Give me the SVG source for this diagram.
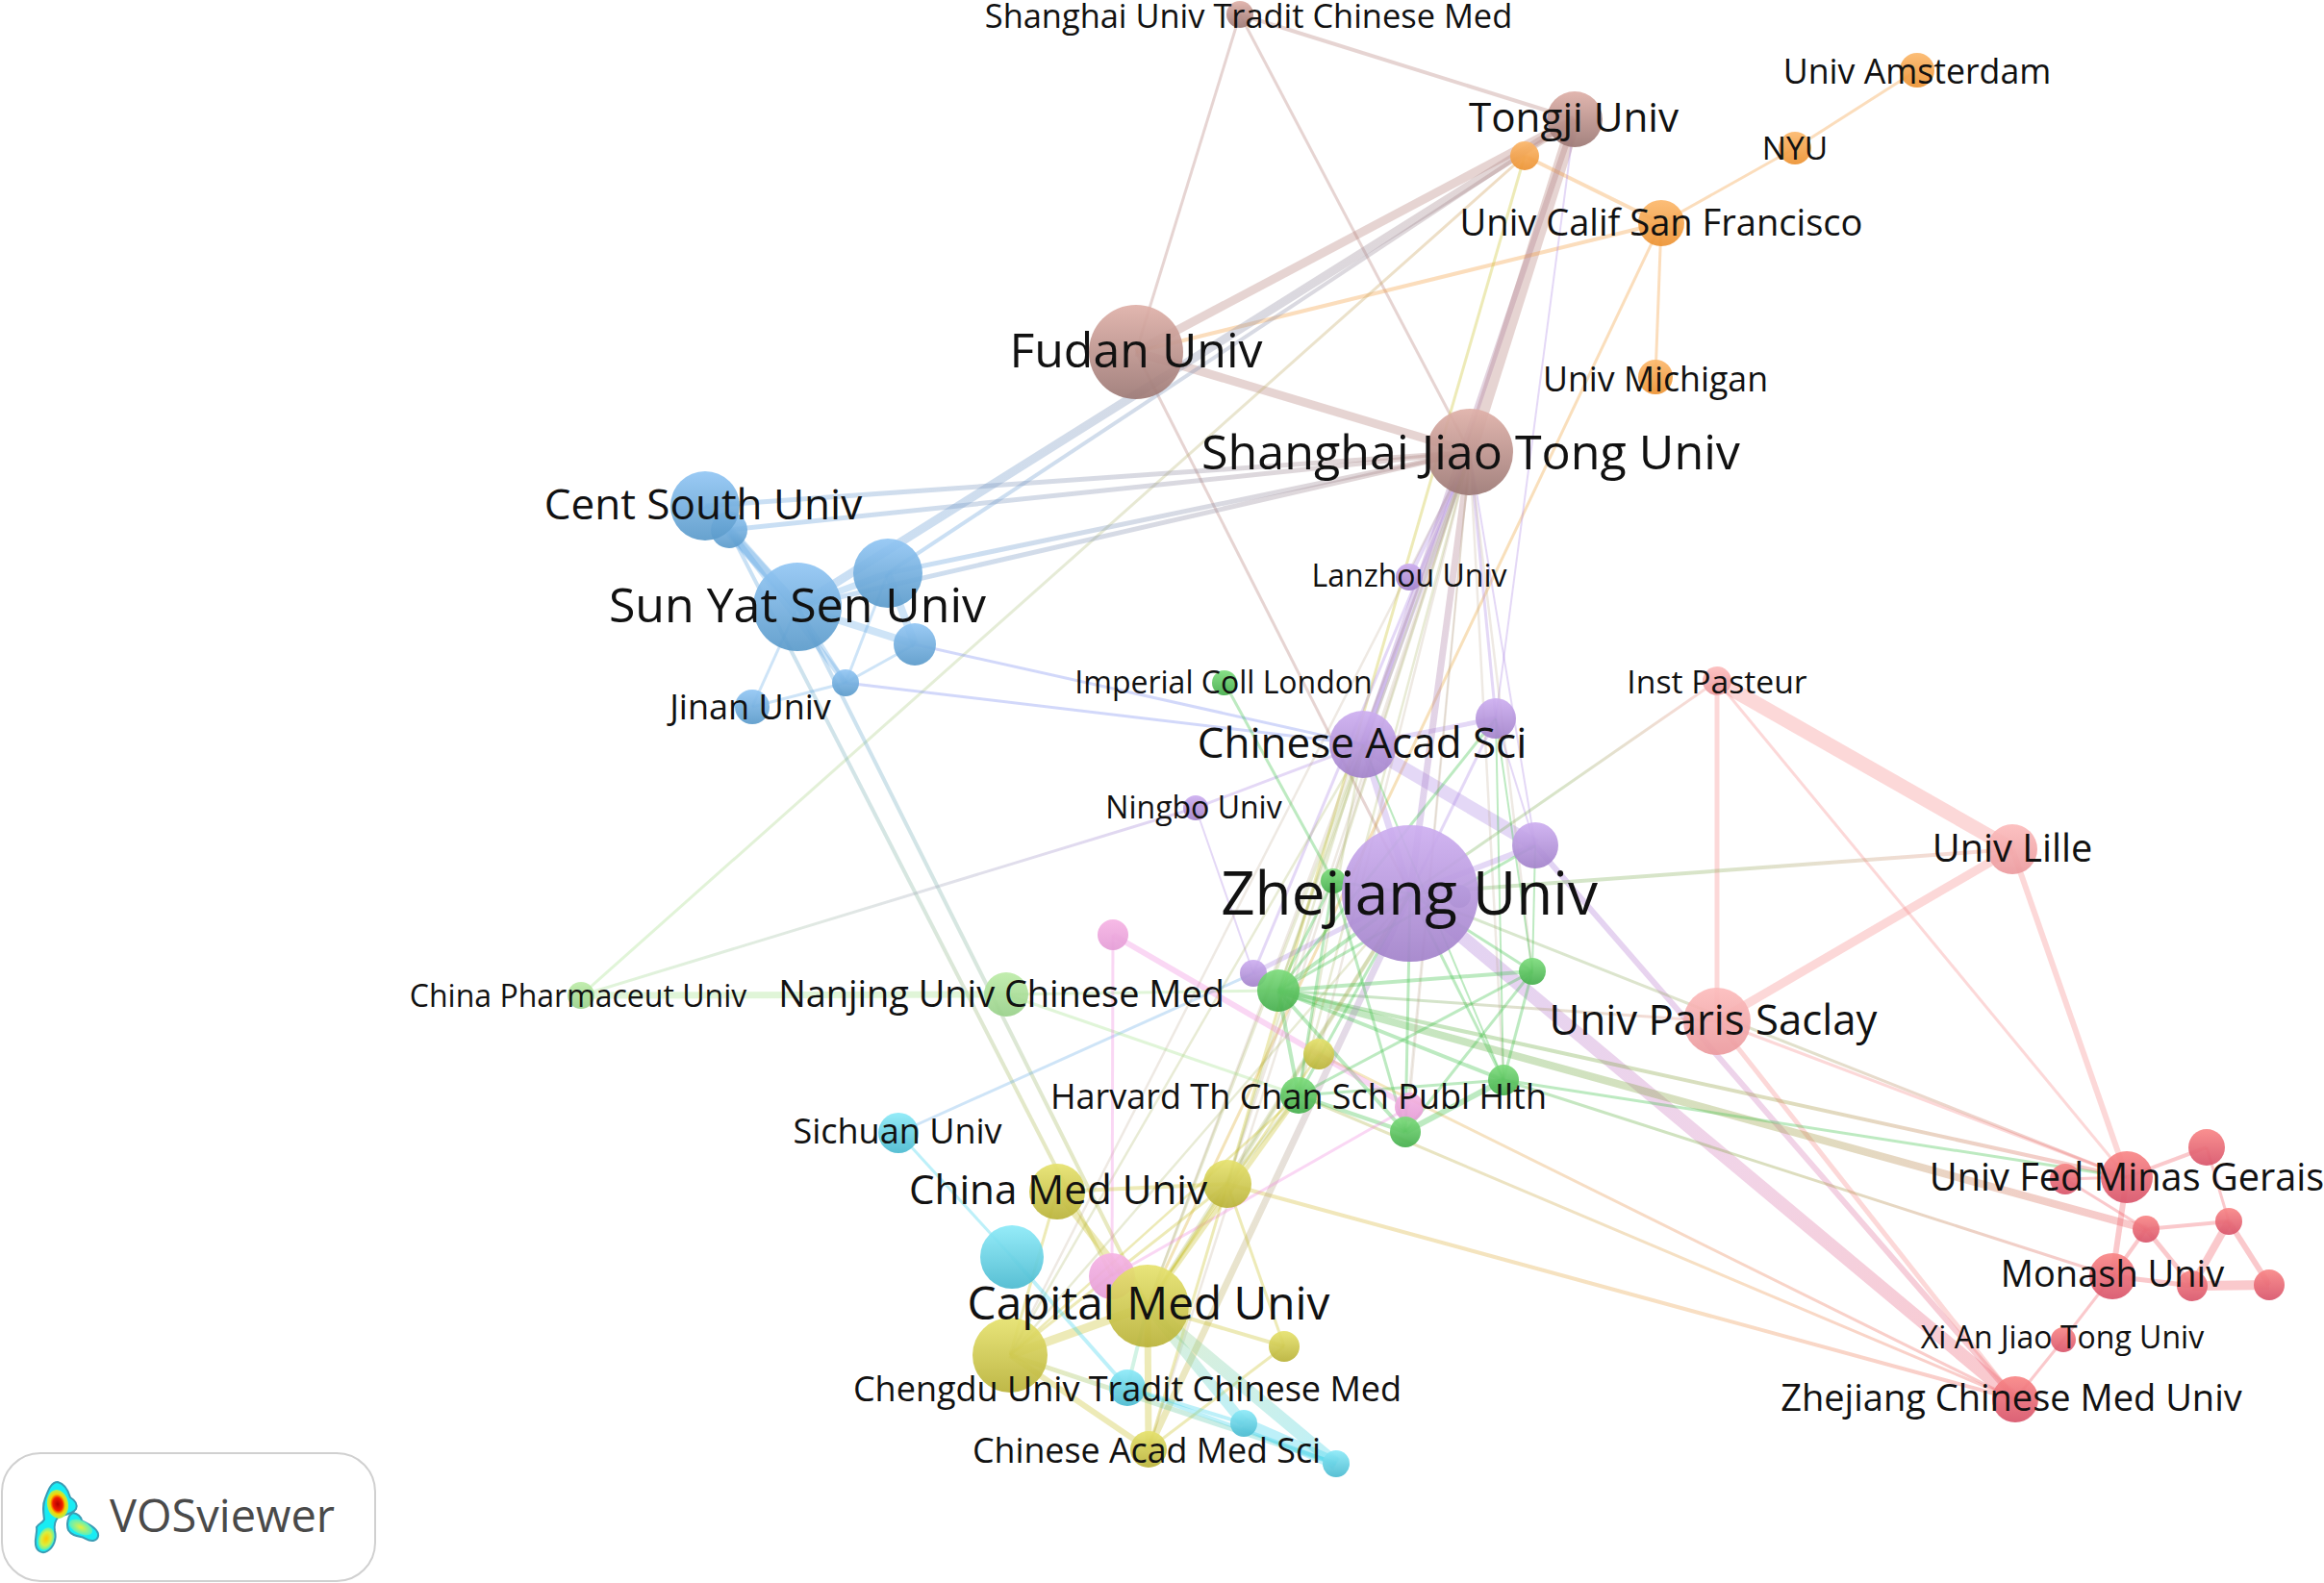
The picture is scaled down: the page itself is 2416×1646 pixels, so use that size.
<svg xmlns="http://www.w3.org/2000/svg" width="2416" height="1646" viewBox="0 0 2416 1646">
<style>
text{font-family:"Open Sans","Noto Sans","Liberation Sans",sans-serif;fill:#111;text-anchor:middle}
#connectors line{stroke-opacity:.34;fill:none}
#connectors line.ol,#connectors line.be{stroke-opacity:.24}
#connectors line.bl{stroke-opacity:.3}
#connectors line.pu{stroke-opacity:.3}
.node circle{opacity:.92}
.br{stroke:#b5827a}.or{stroke:#f39c3c}.pu{stroke:#a57fe0}.bl{stroke:#5da4e6}.re{stroke:#f0606a}.lp{stroke:#f78e8e}
.gr{stroke:#3fc04a}.ye{stroke:#c9c02c}.cy{stroke:#3ed4ee}.pk{stroke:#f08ade}.lg{stroke:#a5e38c}.ol{stroke:#a0ad50}.be{stroke:#b9a58a}.vi{stroke:#7c8cf0}.tl{stroke:#7cdcb4}
.fb{fill:url(#nBlue)}.ff{fill:url(#nBrown)}.fo{fill:url(#nOrange)}.fp{fill:url(#nPurple)}.fr{fill:url(#nRed)}.fl{fill:url(#nLp)}.fg{fill:url(#nGreen)}.fy{fill:url(#nYellow)}.fc{fill:url(#nCyan)}.fk{fill:url(#nPink)}.fn{fill:url(#nLg)}.fs{fill:url(#nSlate)}
</style>
<defs>
<linearGradient id="nBlue" x2="0" y2="1"><stop offset="0" stop-color="#92c6f4"/><stop offset="1" stop-color="#5a9aca"/></linearGradient>
<linearGradient id="nBrown" x2="0" y2="1"><stop offset="0" stop-color="#dfb0a8"/><stop offset="1" stop-color="#9c7874"/></linearGradient>
<linearGradient id="nOrange" x2="0" y2="1"><stop offset="0" stop-color="#fcb86c"/><stop offset="1" stop-color="#ec9232"/></linearGradient>
<linearGradient id="nPurple" x2="0" y2="1"><stop offset="0" stop-color="#cdaef0"/><stop offset="1" stop-color="#a282ca"/></linearGradient>
<linearGradient id="nRed" x2="0" y2="1"><stop offset="0" stop-color="#f98686"/><stop offset="1" stop-color="#d8546a"/></linearGradient>
<linearGradient id="nLp" x2="0" y2="1"><stop offset="0" stop-color="#fcbcbc"/><stop offset="1" stop-color="#eb9a9e"/></linearGradient>
<linearGradient id="nGreen" x2="0" y2="1"><stop offset="0" stop-color="#7ddc7c"/><stop offset="1" stop-color="#44ae4c"/></linearGradient>
<linearGradient id="nYellow" x2="0" y2="1"><stop offset="0" stop-color="#e6e26e"/><stop offset="1" stop-color="#b9b238"/></linearGradient>
<linearGradient id="nCyan" x2="0" y2="1"><stop offset="0" stop-color="#8ceaf8"/><stop offset="1" stop-color="#4abad0"/></linearGradient>
<linearGradient id="nPink" x2="0" y2="1"><stop offset="0" stop-color="#f6b4e4"/><stop offset="1" stop-color="#e49cd6"/></linearGradient>
<linearGradient id="nLg" x2="0" y2="1"><stop offset="0" stop-color="#bdeca8"/><stop offset="1" stop-color="#98d08a"/></linearGradient>
<linearGradient id="nSlate" x2="0" y2="1"><stop offset="0" stop-color="#9aa2c8"/><stop offset="1" stop-color="#808aa8"/></linearGradient>
<linearGradient id="e1" gradientUnits="userSpaceOnUse" x1="1466" y1="929" x2="2095" y2="1455"><stop offset="0" stop-color="#a57fe0"/><stop offset=".55" stop-color="#d880b8"/><stop offset="1" stop-color="#f0606a"/></linearGradient>
<linearGradient id="e2" gradientUnits="userSpaceOnUse" x1="1596" y1="879" x2="2095" y2="1455"><stop offset="0" stop-color="#a57fe0"/><stop offset=".55" stop-color="#d880b8"/><stop offset="1" stop-color="#f0606a"/></linearGradient>
<linearGradient id="e3" gradientUnits="userSpaceOnUse" x1="1329" y1="1030" x2="2231" y2="1278"><stop offset="0" stop-color="#3fc04a"/><stop offset=".6" stop-color="#a09a40"/><stop offset="1" stop-color="#f0606a"/></linearGradient>
<linearGradient id="e4" gradientUnits="userSpaceOnUse" x1="1329" y1="1030" x2="2211" y2="1224"><stop offset="0" stop-color="#3fc04a"/><stop offset=".6" stop-color="#a09a40"/><stop offset="1" stop-color="#f0606a"/></linearGradient>
<linearGradient id="e5" gradientUnits="userSpaceOnUse" x1="1563" y1="1123" x2="2196" y2="1327"><stop offset="0" stop-color="#3fc04a"/><stop offset=".5" stop-color="#a09a40"/><stop offset="1" stop-color="#f0606a"/></linearGradient>
<linearGradient id="e6" gradientUnits="userSpaceOnUse" x1="1466" y1="929" x2="2211" y2="1224"><stop offset="0" stop-color="#86c070"/><stop offset=".55" stop-color="#a8a468"/><stop offset="1" stop-color="#f0606a"/></linearGradient>
<linearGradient id="e7" gradientUnits="userSpaceOnUse" x1="829" y1="631" x2="1637" y2="124"><stop offset="0" stop-color="#5da4e6"/><stop offset="1" stop-color="#b5827a"/></linearGradient>
<linearGradient id="e8" gradientUnits="userSpaceOnUse" x1="923" y1="596" x2="1637" y2="124"><stop offset="0" stop-color="#5da4e6"/><stop offset="1" stop-color="#b5827a"/></linearGradient>
<linearGradient id="e9" gradientUnits="userSpaceOnUse" x1="733" y1="526" x2="1528" y2="470"><stop offset="0" stop-color="#5da4e6"/><stop offset="1" stop-color="#b5827a"/></linearGradient>
<linearGradient id="e10" gradientUnits="userSpaceOnUse" x1="758" y1="551" x2="1528" y2="470"><stop offset="0" stop-color="#5da4e6"/><stop offset="1" stop-color="#b5827a"/></linearGradient>
<linearGradient id="e11" gradientUnits="userSpaceOnUse" x1="923" y1="596" x2="1528" y2="470"><stop offset="0" stop-color="#5da4e6"/><stop offset="1" stop-color="#b5827a"/></linearGradient>
<linearGradient id="e12" gradientUnits="userSpaceOnUse" x1="829" y1="631" x2="1528" y2="470"><stop offset="0" stop-color="#5da4e6"/><stop offset="1" stop-color="#b5827a"/></linearGradient>
<linearGradient id="e13" gradientUnits="userSpaceOnUse" x1="758" y1="551" x2="1156" y2="1327"><stop offset="0" stop-color="#5da4e6"/><stop offset=".5" stop-color="#8cb8a0"/><stop offset="1" stop-color="#c9c02c"/></linearGradient>
<linearGradient id="e14" gradientUnits="userSpaceOnUse" x1="829" y1="631" x2="1193" y2="1358"><stop offset="0" stop-color="#5da4e6"/><stop offset=".5" stop-color="#8cb8a0"/><stop offset="1" stop-color="#c9c02c"/></linearGradient>
<linearGradient id="e15" gradientUnits="userSpaceOnUse" x1="1466" y1="929" x2="1194" y2="1507"><stop offset="0" stop-color="#a57fe0"/><stop offset=".5" stop-color="#b8a68e"/><stop offset="1" stop-color="#c9c02c"/></linearGradient>
<linearGradient id="e16" gradientUnits="userSpaceOnUse" x1="1637" y1="124" x2="1417" y2="774"><stop offset="0" stop-color="#b5827a"/><stop offset="1" stop-color="#a57fe0"/></linearGradient>
<linearGradient id="e17" gradientUnits="userSpaceOnUse" x1="1528" y1="470" x2="1466" y2="929"><stop offset="0" stop-color="#b5827a"/><stop offset="1" stop-color="#a57fe0"/></linearGradient>
<linearGradient id="e18" gradientUnits="userSpaceOnUse" x1="1371" y1="1096" x2="2095" y2="1455"><stop offset="0" stop-color="#e0c040"/><stop offset="1" stop-color="#f0606a"/></linearGradient>
<linearGradient id="e19" gradientUnits="userSpaceOnUse" x1="1350" y1="1139" x2="2095" y2="1455"><stop offset="0" stop-color="#a8b848"/><stop offset=".6" stop-color="#eca050"/><stop offset="1" stop-color="#f0606a"/></linearGradient>
<linearGradient id="e20" gradientUnits="userSpaceOnUse" x1="1276" y1="1231" x2="2095" y2="1455"><stop offset="0" stop-color="#d0c030"/><stop offset=".6" stop-color="#eca050"/><stop offset="1" stop-color="#f0606a"/></linearGradient>
<linearGradient id="e21" gradientUnits="userSpaceOnUse" x1="1585" y1="162" x2="604" y2="1035"><stop offset="0" stop-color="#d09850"/><stop offset=".5" stop-color="#b4c488"/><stop offset="1" stop-color="#a5e38c"/></linearGradient>
<linearGradient id="e22" gradientUnits="userSpaceOnUse" x1="604" y1="1035" x2="1243" y2="840"><stop offset="0" stop-color="#a5e38c"/><stop offset="1" stop-color="#a57fe0"/></linearGradient>
<linearGradient id="e23" gradientUnits="userSpaceOnUse" x1="1193" y1="1358" x2="1389" y2="1522"><stop offset="0" stop-color="#a8d080"/><stop offset="1" stop-color="#3ed4ee"/></linearGradient>
<linearGradient id="e24" gradientUnits="userSpaceOnUse" x1="1193" y1="1358" x2="1293" y2="1480"><stop offset="0" stop-color="#a8d080"/><stop offset="1" stop-color="#3ed4ee"/></linearGradient>
<linearGradient id="e25" gradientUnits="userSpaceOnUse" x1="1050" y1="1409" x2="1389" y2="1522"><stop offset="0" stop-color="#c9c02c"/><stop offset=".5" stop-color="#70c8a0"/><stop offset="1" stop-color="#3ed4ee"/></linearGradient>
<linearGradient id="e26" gradientUnits="userSpaceOnUse" x1="1727" y1="232" x2="1193" y2="1358"><stop offset="0" stop-color="#f39c3c"/><stop offset="1" stop-color="#d8b030"/></linearGradient>
<linearGradient id="e27" gradientUnits="userSpaceOnUse" x1="1329" y1="1030" x2="1785" y2="1062"><stop offset="0" stop-color="#3fc04a"/><stop offset="1" stop-color="#f78e8e"/></linearGradient>
<linearGradient id="e28" gradientUnits="userSpaceOnUse" x1="1785" y1="708" x2="1466" y2="929"><stop offset="0" stop-color="#f78e8e"/><stop offset=".5" stop-color="#90b060"/><stop offset="1" stop-color="#70b860"/></linearGradient>
<linearGradient id="e29" gradientUnits="userSpaceOnUse" x1="2092" y1="883" x2="1466" y2="929"><stop offset="0" stop-color="#f78e8e"/><stop offset=".5" stop-color="#90b060"/><stop offset="1" stop-color="#70b860"/></linearGradient>
<radialGradient id="lgA" cx=".5" cy=".5" r=".5"><stop offset="0" stop-color="#b00000"/><stop offset=".45" stop-color="#f21d00"/><stop offset=".7" stop-color="#f7d400"/><stop offset="1" stop-color="#a8f25a"/></radialGradient>
<radialGradient id="lgB" cx=".5" cy=".5" r=".5"><stop offset="0" stop-color="#ffc800"/><stop offset=".6" stop-color="#d8f040"/><stop offset="1" stop-color="#60f0b0"/></radialGradient>
<radialGradient id="lgC" cx=".5" cy=".5" r=".5"><stop offset="0" stop-color="#e8f03c"/><stop offset="1" stop-color="#50f0c8"/></radialGradient>
</defs>
<rect width="2416" height="1646" fill="#fff"/>
<g id="connectors">
<line class="br" x1="1289" y1="15" x2="1637" y2="124" stroke-width="4"/>
<line class="br" x1="1289" y1="15" x2="1181" y2="366" stroke-width="3"/>
<line class="br" x1="1289" y1="15" x2="1528" y2="470" stroke-width="3"/>
<line class="br" x1="1181" y1="366" x2="1637" y2="124" stroke-width="9"/>
<line class="br" x1="1181" y1="366" x2="1528" y2="470" stroke-width="9"/>
<line class="br" x1="1637" y1="124" x2="1528" y2="470" stroke-width="14"/>
<line class="br" x1="1181" y1="366" x2="1466" y2="929" stroke-width="3"/>
<line class="or" x1="1585" y1="162" x2="1727" y2="232" stroke-width="4"/>
<line class="or" x1="1727" y1="232" x2="1866" y2="154" stroke-width="3"/>
<line class="or" x1="1866" y1="154" x2="1993" y2="73" stroke-width="3"/>
<line class="or" x1="1727" y1="232" x2="1721" y2="392" stroke-width="3"/>
<line class="or" x1="1727" y1="232" x2="1181" y2="366" stroke-width="4"/>
<line x1="1727" y1="232" x2="1193" y2="1358" stroke="url(#e26)" stroke-width="3"/>
<line class="ye" x1="1585" y1="162" x2="1276" y2="1231" stroke-width="3"/>
<line x1="1585" y1="162" x2="604" y2="1035" stroke="url(#e21)" stroke-width="3"/>
<line x1="829" y1="631" x2="1637" y2="124" stroke="url(#e7)" stroke-width="9"/>
<line x1="923" y1="596" x2="1637" y2="124" stroke="url(#e8)" stroke-width="4"/>
<line x1="733" y1="526" x2="1528" y2="470" stroke="url(#e9)" stroke-width="5"/>
<line x1="758" y1="551" x2="1528" y2="470" stroke="url(#e10)" stroke-width="5"/>
<line x1="923" y1="596" x2="1528" y2="470" stroke="url(#e11)" stroke-width="5"/>
<line x1="829" y1="631" x2="1528" y2="470" stroke="url(#e12)" stroke-width="5"/>
<line x1="758" y1="551" x2="1156" y2="1327" stroke="url(#e13)" stroke-width="4"/>
<line x1="829" y1="631" x2="1193" y2="1358" stroke="url(#e14)" stroke-width="4"/>
<line class="bl" x1="733" y1="526" x2="758" y2="551" stroke-width="5"/>
<line class="bl" x1="733" y1="526" x2="829" y2="631" stroke-width="10"/>
<line class="bl" x1="758" y1="551" x2="829" y2="631" stroke-width="10"/>
<line class="bl" x1="829" y1="631" x2="923" y2="596" stroke-width="7"/>
<line class="bl" x1="829" y1="631" x2="951" y2="670" stroke-width="8"/>
<line class="bl" x1="923" y1="596" x2="951" y2="670" stroke-width="8"/>
<line class="bl" x1="923" y1="596" x2="879" y2="710" stroke-width="3"/>
<line class="bl" x1="758" y1="551" x2="879" y2="710" stroke-width="6"/>
<line class="bl" x1="829" y1="631" x2="879" y2="710" stroke-width="4"/>
<line class="bl" x1="951" y1="670" x2="879" y2="710" stroke-width="3"/>
<line class="bl" x1="829" y1="631" x2="782" y2="735" stroke-width="3"/>
<line class="bl" x1="782" y1="735" x2="879" y2="710" stroke-width="3"/>
<line class="vi" x1="879" y1="710" x2="1417" y2="774" stroke-width="3"/>
<line class="vi" x1="951" y1="670" x2="1417" y2="774" stroke-width="3"/>
<line class="bl" x1="934" y1="1178" x2="1303" y2="1012" stroke-width="3"/>
<line class="pu" x1="1417" y1="774" x2="1596" y2="879" stroke-width="14"/>
<line class="pu" x1="1417" y1="774" x2="1555" y2="747" stroke-width="5"/>
<line class="pu" x1="1555" y1="747" x2="1596" y2="879" stroke-width="2"/>
<line class="pu" x1="1528" y1="470" x2="1555" y2="747" stroke-width="3"/>
<line class="pu" x1="1637" y1="124" x2="1555" y2="747" stroke-width="2"/>
<line class="pu" x1="1555" y1="747" x2="1466" y2="929" stroke-width="3"/>
<line class="pu" x1="1417" y1="774" x2="1243" y2="840" stroke-width="3"/>
<line class="pu" x1="1243" y1="840" x2="1303" y2="1012" stroke-width="2"/>
<line class="pu" x1="1466" y1="929" x2="1596" y2="879" stroke-width="6"/>
<line class="pu" x1="1417" y1="774" x2="1466" y2="929" stroke-width="7"/>
<line class="pu" x1="1528" y1="470" x2="1417" y2="774" stroke-width="7"/>
<line class="pu" x1="1528" y1="470" x2="1465" y2="600" stroke-width="5"/>
<line class="pu" x1="1528" y1="470" x2="1596" y2="879" stroke-width="2"/>
<line class="pu" x1="1466" y1="929" x2="1303" y2="1012" stroke-width="5"/>
<line class="pu" x1="1528" y1="470" x2="1303" y2="1012" stroke-width="3"/>
<line x1="1528" y1="470" x2="1466" y2="929" stroke="url(#e17)" stroke-width="7"/>
<line x1="1637" y1="124" x2="1417" y2="774" stroke="url(#e16)" stroke-width="6"/>
<line x1="1466" y1="929" x2="2095" y2="1455" stroke="url(#e1)" stroke-width="14"/>
<line x1="1596" y1="879" x2="2095" y2="1455" stroke="url(#e2)" stroke-width="6"/>
<line class="lp" x1="1785" y1="708" x2="2092" y2="883" stroke-width="15"/>
<line class="lp" x1="1785" y1="708" x2="1785" y2="1062" stroke-width="5"/>
<line class="lp" x1="1785" y1="708" x2="2211" y2="1224" stroke-width="3"/>
<line class="lp" x1="2092" y1="883" x2="1785" y2="1062" stroke-width="9"/>
<line class="lp" x1="2092" y1="883" x2="2211" y2="1224" stroke-width="6"/>
<line class="lp" x1="1785" y1="1062" x2="2211" y2="1224" stroke-width="3"/>
<line class="lp" x1="1785" y1="1062" x2="2095" y2="1455" stroke-width="5"/>
<line x1="1785" y1="708" x2="1466" y2="929" stroke="url(#e28)" stroke-width="3"/>
<line x1="2092" y1="883" x2="1466" y2="929" stroke="url(#e29)" stroke-width="4"/>
<line x1="1329" y1="1030" x2="1785" y2="1062" stroke="url(#e27)" stroke-width="3"/>
<line x1="1329" y1="1030" x2="2231" y2="1278" stroke="url(#e3)" stroke-width="8"/>
<line x1="1329" y1="1030" x2="2211" y2="1224" stroke="url(#e4)" stroke-width="4"/>
<line x1="1563" y1="1123" x2="2196" y2="1327" stroke="url(#e5)" stroke-width="3"/>
<line x1="1466" y1="929" x2="2211" y2="1224" stroke="url(#e6)" stroke-width="3"/>
<line x1="1371" y1="1096" x2="2095" y2="1455" stroke="url(#e18)" stroke-width="3"/>
<line x1="1350" y1="1139" x2="2095" y2="1455" stroke="url(#e19)" stroke-width="3"/>
<line x1="1276" y1="1231" x2="2095" y2="1455" stroke="url(#e20)" stroke-width="4"/>
<line class="re" x1="2211" y1="1224" x2="2294" y2="1193" stroke-width="4"/>
<line class="re" x1="2211" y1="1224" x2="2147" y2="1226" stroke-width="3"/>
<line class="re" x1="2147" y1="1226" x2="2231" y2="1278" stroke-width="3"/>
<line class="re" x1="2211" y1="1224" x2="2196" y2="1327" stroke-width="6"/>
<line class="re" x1="2294" y1="1193" x2="2317" y2="1270" stroke-width="3"/>
<line class="re" x1="2231" y1="1278" x2="2317" y2="1270" stroke-width="4"/>
<line class="re" x1="2231" y1="1278" x2="2196" y2="1327" stroke-width="4"/>
<line class="re" x1="2231" y1="1278" x2="2279" y2="1337" stroke-width="5"/>
<line class="re" x1="2317" y1="1270" x2="2279" y2="1337" stroke-width="8"/>
<line class="re" x1="2317" y1="1270" x2="2359" y2="1336" stroke-width="6"/>
<line class="re" x1="2279" y1="1337" x2="2359" y2="1336" stroke-width="10"/>
<line class="re" x1="2196" y1="1327" x2="2279" y2="1337" stroke-width="5"/>
<line class="re" x1="2196" y1="1327" x2="2145" y2="1393" stroke-width="3"/>
<line class="re" x1="2145" y1="1393" x2="2095" y2="1455" stroke-width="3"/>
<line class="ol" x1="1528" y1="470" x2="1386" y2="916" stroke-width="2.5"/>
<line class="ol" x1="1528" y1="470" x2="1329" y2="1030" stroke-width="2.5"/>
<line class="be" x1="1528" y1="470" x2="1593" y2="1010" stroke-width="2.5"/>
<line class="be" x1="1528" y1="470" x2="1563" y2="1123" stroke-width="2.5"/>
<line class="ol" x1="1528" y1="470" x2="1350" y2="1139" stroke-width="2.5"/>
<line class="be" x1="1528" y1="470" x2="1461" y2="1177" stroke-width="2"/>
<line class="be" x1="1528" y1="470" x2="1465" y2="1151" stroke-width="2"/>
<line class="be" x1="1528" y1="470" x2="1371" y2="1096" stroke-width="2.5"/>
<line class="be" x1="1528" y1="470" x2="1276" y2="1231" stroke-width="2.5"/>
<line class="be" x1="1528" y1="470" x2="1193" y2="1358" stroke-width="2.5"/>
<line class="be" x1="1528" y1="470" x2="1194" y2="1507" stroke-width="2.5"/>
<line class="be" x1="1528" y1="470" x2="1050" y2="1409" stroke-width="2.5"/>
<line class="ol" x1="1417" y1="774" x2="1329" y2="1030" stroke-width="2.5"/>
<line class="ol" x1="1417" y1="774" x2="1350" y2="1139" stroke-width="2.5"/>
<line class="ol" x1="1417" y1="774" x2="1276" y2="1231" stroke-width="2.5"/>
<line class="ol" x1="1417" y1="774" x2="1193" y2="1358" stroke-width="3"/>
<line class="ol" x1="1417" y1="774" x2="1050" y2="1409" stroke-width="2.5"/>
<line class="ol" x1="1466" y1="929" x2="1193" y2="1358" stroke-width="4"/>
<line class="ol" x1="1466" y1="929" x2="1276" y2="1231" stroke-width="4"/>
<line class="ol" x1="1466" y1="929" x2="1050" y2="1409" stroke-width="2.5"/>
<line x1="1466" y1="929" x2="1194" y2="1507" stroke="url(#e15)" stroke-width="7"/>
<line class="gr" x1="1273" y1="710" x2="1386" y2="916" stroke-width="3"/>
<line class="gr" x1="1466" y1="929" x2="1386" y2="916" stroke-width="3"/>
<line class="gr" x1="1466" y1="929" x2="1329" y2="1030" stroke-width="4"/>
<line class="gr" x1="1466" y1="929" x2="1593" y2="1010" stroke-width="3"/>
<line class="gr" x1="1466" y1="929" x2="1350" y2="1139" stroke-width="3"/>
<line class="gr" x1="1466" y1="929" x2="1563" y2="1123" stroke-width="3"/>
<line class="gr" x1="1466" y1="929" x2="1461" y2="1177" stroke-width="3"/>
<line class="gr" x1="1386" y1="916" x2="1329" y2="1030" stroke-width="3"/>
<line class="gr" x1="1386" y1="916" x2="1350" y2="1139" stroke-width="3"/>
<line class="gr" x1="1386" y1="916" x2="1461" y2="1177" stroke-width="3"/>
<line class="gr" x1="1555" y1="747" x2="1593" y2="1010" stroke-width="2"/>
<line class="gr" x1="1555" y1="747" x2="1563" y2="1123" stroke-width="2"/>
<line class="gr" x1="1555" y1="747" x2="1329" y2="1030" stroke-width="3"/>
<line class="gr" x1="1417" y1="774" x2="1563" y2="1123" stroke-width="2"/>
<line class="gr" x1="1329" y1="1030" x2="1593" y2="1010" stroke-width="4"/>
<line class="gr" x1="1329" y1="1030" x2="1563" y2="1123" stroke-width="4"/>
<line class="gr" x1="1329" y1="1030" x2="1461" y2="1177" stroke-width="4"/>
<line class="gr" x1="1329" y1="1030" x2="1350" y2="1139" stroke-width="4"/>
<line class="gr" x1="1593" y1="1010" x2="1350" y2="1139" stroke-width="3"/>
<line class="gr" x1="1593" y1="1010" x2="1563" y2="1123" stroke-width="3"/>
<line class="gr" x1="1593" y1="1010" x2="1461" y2="1177" stroke-width="3"/>
<line class="gr" x1="1350" y1="1139" x2="1461" y2="1177" stroke-width="4"/>
<line class="gr" x1="1461" y1="1177" x2="1563" y2="1123" stroke-width="6"/>
<line class="gr" x1="1350" y1="1139" x2="1563" y2="1123" stroke-width="3"/>
<line class="gr" x1="1596" y1="879" x2="1329" y2="1030" stroke-width="3"/>
<line class="gr" x1="1596" y1="879" x2="1593" y2="1010" stroke-width="2"/>
<line class="gr" x1="1563" y1="1123" x2="2211" y2="1224" stroke-width="3"/>
<line class="lg" x1="604" y1="1035" x2="1046" y2="1034" stroke-width="7"/>
<line class="lg" x1="1046" y1="1034" x2="1329" y2="1030" stroke-width="3"/>
<line class="lg" x1="1046" y1="1034" x2="1350" y2="1139" stroke-width="3"/>
<line x1="604" y1="1035" x2="1243" y2="840" stroke="url(#e22)" stroke-width="3"/>
<line class="ol" x1="1350" y1="1139" x2="1276" y2="1231" stroke-width="4"/>
<line class="pk" x1="1157" y1="972" x2="1156" y2="1327" stroke-width="3"/>
<line class="pk" x1="1157" y1="972" x2="1465" y2="1151" stroke-width="6"/>
<line class="pk" x1="1465" y1="1151" x2="1156" y2="1327" stroke-width="3"/>
<line class="ye" x1="1099" y1="1239" x2="1193" y2="1358" stroke-width="7"/>
<line class="ye" x1="1099" y1="1239" x2="1276" y2="1231" stroke-width="4"/>
<line class="ye" x1="1099" y1="1239" x2="1050" y2="1409" stroke-width="3"/>
<line class="ye" x1="1050" y1="1409" x2="1193" y2="1358" stroke-width="9"/>
<line class="ye" x1="1050" y1="1409" x2="1194" y2="1507" stroke-width="6"/>
<line class="ye" x1="1050" y1="1409" x2="1276" y2="1231" stroke-width="3"/>
<line class="ye" x1="1193" y1="1358" x2="1194" y2="1507" stroke-width="7"/>
<line class="ye" x1="1193" y1="1358" x2="1335" y2="1400" stroke-width="4"/>
<line class="ye" x1="1276" y1="1231" x2="1335" y2="1400" stroke-width="3"/>
<line class="ye" x1="1335" y1="1400" x2="1194" y2="1507" stroke-width="3"/>
<line class="ye" x1="1276" y1="1231" x2="1193" y2="1358" stroke-width="3"/>
<line class="ye" x1="1276" y1="1231" x2="1194" y2="1507" stroke-width="3"/>
<line class="ye" x1="1371" y1="1096" x2="1193" y2="1358" stroke-width="2.5"/>
<line class="ye" x1="1350" y1="1139" x2="1193" y2="1358" stroke-width="5"/>
<line class="ye" x1="1350" y1="1139" x2="1050" y2="1409" stroke-width="2.5"/>
<line class="cy" x1="934" y1="1178" x2="1052" y2="1307" stroke-width="3"/>
<line class="cy" x1="1052" y1="1307" x2="1172" y2="1443" stroke-width="4"/>
<line class="cy" x1="1172" y1="1443" x2="1293" y2="1480" stroke-width="4"/>
<line class="cy" x1="1172" y1="1443" x2="1389" y2="1522" stroke-width="4"/>
<line class="cy" x1="1293" y1="1480" x2="1389" y2="1522" stroke-width="13"/>
<line class="tl" x1="1193" y1="1358" x2="1172" y2="1443" stroke-width="4"/>
<line x1="1193" y1="1358" x2="1389" y2="1522" stroke="url(#e23)" stroke-width="13"/>
<line x1="1193" y1="1358" x2="1293" y2="1480" stroke="url(#e24)" stroke-width="11"/>
<line x1="1050" y1="1409" x2="1389" y2="1522" stroke="url(#e25)" stroke-width="5"/>
</g>
<g id="n-purple-a" class="node"><circle class="fp" cx="1555" cy="747" r="21"/></g>
<g id="n-purple-b" class="node"><circle class="fp" cx="1596" cy="879" r="24"/></g>
<g id="n-green-a" class="node"><circle class="fg" cx="1386" cy="916" r="13"/></g>
<g id="n-slate" class="node"><circle class="fs" cx="1517" cy="932" r="12"/></g>
<g id="n-pink-a" class="node"><circle class="fk" cx="1157" cy="972" r="16"/></g>
<g id="n-purple-c" class="node"><circle class="fp" cx="1303" cy="1012" r="14"/></g>
<g id="n-green-b" class="node"><circle class="fg" cx="1329" cy="1030" r="22"/></g>
<g id="n-green-c" class="node"><circle class="fg" cx="1593" cy="1010" r="14"/></g>
<g id="n-yellow-a" class="node"><circle class="fy" cx="1371" cy="1096" r="16"/></g>
<g id="n-green-d" class="node"><circle class="fg" cx="1563" cy="1123" r="16"/></g>
<g id="n-pink-b" class="node"><circle class="fk" cx="1465" cy="1151" r="15"/></g>
<g id="n-green-e" class="node"><circle class="fg" cx="1461" cy="1177" r="16"/></g>
<g id="n-orange-a" class="node"><circle class="fo" cx="1585" cy="162" r="15"/></g>
<g id="n-yellow-b" class="node"><circle class="fy" cx="1276" cy="1231" r="25"/></g>
<g id="n-cyan-a" class="node"><circle class="fc" cx="1052" cy="1307" r="33"/></g>
<g id="n-pink-c" class="node"><circle class="fk" cx="1156" cy="1327" r="24"/></g>
<g id="n-yellow-c" class="node"><circle class="fy" cx="1050" cy="1409" r="39"/></g>
<g id="n-yellow-d" class="node"><circle class="fy" cx="1335" cy="1400" r="16"/></g>
<g id="n-cyan-b" class="node"><circle class="fc" cx="1293" cy="1480" r="14"/></g>
<g id="n-cyan-c" class="node"><circle class="fc" cx="1389" cy="1522" r="14"/></g>
<g id="n-red-a" class="node"><circle class="fr" cx="2294" cy="1193" r="19"/></g>
<g id="n-red-b" class="node"><circle class="fr" cx="2147" cy="1226" r="16"/></g>
<g id="n-red-c" class="node"><circle class="fr" cx="2231" cy="1278" r="14"/></g>
<g id="n-red-d" class="node"><circle class="fr" cx="2317" cy="1270" r="14"/></g>
<g id="n-red-e" class="node"><circle class="fr" cx="2279" cy="1337" r="16"/></g>
<g id="n-red-f" class="node"><circle class="fr" cx="2359" cy="1336" r="16"/></g>
<g id="n-blue-a" class="node"><circle class="fb" cx="758" cy="551" r="19"/></g>
<g id="n-blue-b" class="node"><circle class="fb" cx="923" cy="596" r="36"/></g>
<g id="n-blue-c" class="node"><circle class="fb" cx="951" cy="670" r="22"/></g>
<g id="n-blue-d" class="node"><circle class="fb" cx="879" cy="710" r="14"/></g>
<g id="n-zhejiang" class="node"><circle class="fp" cx="1466" cy="929" r="71"/><text x="1465" y="951" font-size="62">Zhejiang Univ</text></g>
<g id="n-sjtu" class="node"><circle class="ff" cx="1528" cy="470" r="45"/><text x="1529" y="488" font-size="50.2">Shanghai Jiao Tong Univ</text></g>
<g id="n-fudan" class="node"><circle class="ff" cx="1181" cy="366" r="49"/><text x="1181" y="382" font-size="50">Fudan Univ</text></g>
<g id="n-sysu" class="node"><circle class="fb" cx="829" cy="631" r="46"/><text x="829" y="647" font-size="50">Sun Yat Sen Univ</text></g>
<g id="n-cas" class="node"><circle class="fp" cx="1417" cy="774" r="35"/><text x="1416" y="788" font-size="44">Chinese Acad Sci</text></g>
<g id="n-capital" class="node"><circle class="fy" cx="1193" cy="1358" r="43"/><text x="1194" y="1372" font-size="47.7">Capital Med Univ</text></g>
<g id="n-csu" class="node"><circle class="fb" cx="733" cy="526" r="36"/><text x="731" y="540" font-size="44">Cent South Univ</text></g>
<g id="n-tongji" class="node"><circle class="ff" cx="1637" cy="124" r="29"/><text x="1636" y="137" font-size="42.2">Tongji Univ</text></g>
<g id="n-ucsf" class="node"><circle class="fo" cx="1727" cy="232" r="24"/><text x="1727" y="245" font-size="38.1">Univ Calif San Francisco</text></g>
<g id="n-shutcm" class="node"><circle class="ff" cx="1289" cy="15" r="14"/><text x="1298" y="29" font-size="34.4">Shanghai Univ Tradit Chinese Med</text></g>
<g id="n-amsterdam" class="node"><circle class="fo" cx="1993" cy="73" r="18"/><text x="1993" y="87" font-size="35.7">Univ Amsterdam</text></g>
<g id="n-nyu" class="node"><circle class="fo" cx="1866" cy="154" r="17"/><text x="1866" y="166" font-size="33.5">NYU</text></g>
<g id="n-michigan" class="node"><circle class="fo" cx="1721" cy="392" r="18"/><text x="1721" y="407" font-size="35.7">Univ Michigan</text></g>
<g id="n-lanzhou" class="node"><circle class="fp" cx="1465" cy="600" r="14"/><text x="1465" y="610" font-size="32">Lanzhou Univ</text></g>
<g id="n-imperial" class="node"><circle class="fg" cx="1273" cy="710" r="13"/><text x="1272" y="721" font-size="32">Imperial Coll London</text></g>
<g id="n-pasteur" class="node"><circle class="fl" cx="1785" cy="708" r="15"/><text x="1785" y="721" font-size="33.7">Inst Pasteur</text></g>
<g id="n-lille" class="node"><circle class="fl" cx="2092" cy="883" r="26"/><text x="2092" y="896" font-size="39.7">Univ Lille</text></g>
<g id="n-ningbo" class="node"><circle class="fp" cx="1243" cy="840" r="13"/><text x="1241" y="851" font-size="32">Ningbo Univ</text></g>
<g id="n-jinan" class="node"><circle class="fb" cx="782" cy="735" r="18"/><text x="780" y="748" font-size="36">Jinan Univ</text></g>
<g id="n-nanjing" class="node"><circle class="fn" cx="1046" cy="1034" r="23"/><text x="1041" y="1047" font-size="37.9">Nanjing Univ Chinese Med</text></g>
<g id="n-pharm" class="node"><circle class="fn" cx="604" cy="1035" r="14"/><text x="601" y="1047" font-size="32">China Pharmaceut Univ</text></g>
<g id="n-saclay" class="node"><circle class="fl" cx="1785" cy="1062" r="35"/><text x="1781" y="1076" font-size="43.7">Univ Paris Saclay</text></g>
<g id="n-harvard" class="node"><circle class="fg" cx="1350" cy="1139" r="19"/><text x="1350" y="1153" font-size="36">Harvard Th Chan Sch Publ Hlth</text></g>
<g id="n-sichuan" class="node"><circle class="fc" cx="934" cy="1178" r="21"/><text x="933" y="1189" font-size="36">Sichuan Univ</text></g>
<g id="n-cmu" class="node"><circle class="fy" cx="1099" cy="1239" r="29"/><text x="1100" y="1252" font-size="42.2">China Med Univ</text></g>
<g id="n-ufmg" class="node"><circle class="fr" cx="2211" cy="1224" r="27"/><text x="2211" y="1238" font-size="39.7">Univ Fed Minas Gerais</text></g>
<g id="n-monash" class="node"><circle class="fr" cx="2196" cy="1327" r="24"/><text x="2196" y="1338" font-size="38">Monash Univ</text></g>
<g id="n-xjtu" class="node"><circle class="fr" cx="2145" cy="1393" r="13"/><text x="2144" y="1402" font-size="32">Xi An Jiao Tong Univ</text></g>
<g id="n-zcmu" class="node"><circle class="fr" cx="2095" cy="1455" r="24"/><text x="2091" y="1467" font-size="38">Zhejiang Chinese Med Univ</text></g>
<g id="n-chengdu" class="node"><circle class="fc" cx="1172" cy="1443" r="19"/><text x="1172" y="1457" font-size="36">Chengdu Univ Tradit Chinese Med</text></g>
<g id="n-cams" class="node"><circle class="fy" cx="1194" cy="1507" r="19"/><text x="1192" y="1521" font-size="35.8">Chinese Acad Med Sci</text></g>
<g id="vosviewer-logo">
<rect x="2" y="1511" width="388" height="133" rx="40" fill="#fff" stroke="#d0d0d0" stroke-width="2"/>
<path d="M60 1541C68 1543 71 1550 73 1557C78 1560 81 1564 79 1569C76 1574 68 1575 61 1577C57 1581 56 1586 57 1592C59 1600 56 1609 49 1613C44 1616 38 1613 37 1606C36 1599 39 1593 38 1588C40 1584 44 1584 46 1580C45 1572 44 1565 47 1558C50 1550 53 1541 60 1541Z" fill="#18ecf4" stroke="#3a9cb4" stroke-width="2"/>
<path d="M76 1573C81 1574 84 1577 85 1581C90 1584 96 1586 100 1591C104 1596 102 1601 97 1602C91 1603 88 1598 84 1598C79 1597 74 1596 71 1591C69 1586 70 1575 76 1573Z" fill="#18ecf4" stroke="#3a9cb4" stroke-width="2"/>
<ellipse cx="60" cy="1564" rx="11" ry="15" fill="url(#lgA)" transform="rotate(-10 60 1564)"/>
<ellipse cx="48" cy="1600" rx="8" ry="12" fill="url(#lgB)" transform="rotate(20 48 1600)"/>
<ellipse cx="84" cy="1588" rx="13" ry="7" fill="url(#lgC)" transform="rotate(25 84 1588)"/>
<text x="231" y="1593" font-size="47" style="fill:#4a4a4a">VOSviewer</text>
</g>
</svg>
